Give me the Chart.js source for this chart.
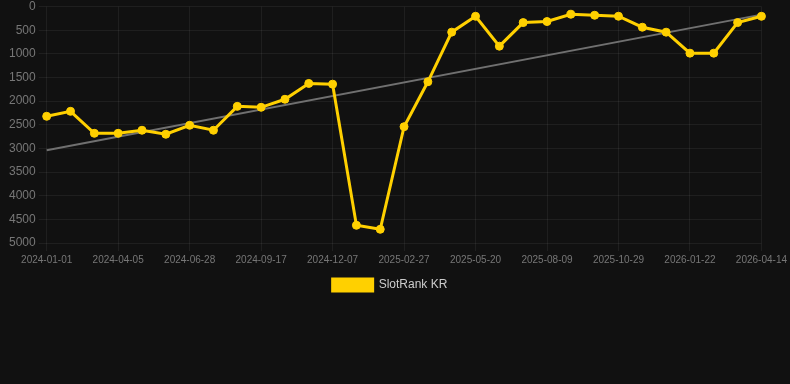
<!DOCTYPE html>
<html>
<head>
<meta charset="utf-8">
<script src="https://cdn.jsdelivr.net/npm/chart.js@4"></script>
<style>
  html, body { margin: 0; padding: 0; background: #111111; }
  #wrap { position: relative; width: 790px; height: 301px; }
</style>
</head>
<body>
<div id="wrap"><canvas id="c"></canvas></div>
<script>
const dates = [
  '2024-01-01','2024-02-01','2024-03-04','2024-04-05','2024-05-03','2024-05-31',
  '2024-06-28','2024-07-25','2024-08-21','2024-09-17','2024-10-14','2024-11-10',
  '2024-12-07','2025-01-03','2025-01-30','2025-02-27','2025-03-26','2025-04-23',
  '2025-05-20','2025-06-16','2025-07-13','2025-08-09','2025-09-05','2025-10-02',
  '2025-10-29','2025-11-26','2025-12-24','2026-01-22','2026-02-18','2026-03-17',
  '2026-04-14'
];
const rankKR = [
  2320, 2215, 2680, 2680, 2615, 2700, 2510, 2615, 2110, 2130, 1960, 1625,
  1640, 4625, 4710, 2540, 1590, 540, 205, 837, 338, 316, 162, 183,
  204, 436, 541, 985, 985, 338, 205
];
const trendStart = 3040;
const trendEnd = 170;
const yTicksMin = 0, yTicksMax = 5000, yTicksStep = 500;
const labelEvery = 3;

const trend = dates.map((d, i) => i === 0 ? trendStart : (i === dates.length - 1 ? trendEnd : null));

new Chart(document.getElementById('c'), {
  type: 'line',
  data: {
    labels: dates,
    datasets: [
      {
        label: 'SlotRank KR',
        data: rankKR,
        borderColor: '#FFD000',
        backgroundColor: '#FFD000',
        borderWidth: 3,
        pointRadius: 4,
        pointBorderWidth: 1,
        pointHoverRadius: 4,
        pointBackgroundColor: '#FFD000',
        pointBorderColor: '#FFD000',
        tension: 0,
        order: 1
      },
      {
        label: 'trend',
        data: trend,
        spanGaps: true,
        borderColor: '#707070',
        backgroundColor: '#707070',
        borderWidth: 2,
        pointRadius: 0,
        tension: 0,
        order: 2
      }
    ]
  },
  options: {
    responsive: true,
    maintainAspectRatio: false,
    animation: false,
    layout: { padding: { left: 6, right: 16, top: 0, bottom: 0 } },
    plugins: {
      legend: {
        position: 'bottom',
        labels: {
          color: '#cccccc',
          font: { family: 'Liberation Sans, Arial, sans-serif', size: 12 },
          boxWidth: 40,
          boxHeight: 12,
          filter: (item) => item.text !== 'trend'
        }
      },
      tooltip: { enabled: false }
    },
    scales: {
      x: {
        grid: {
          color: (ctx) => (ctx.index % labelEvery === 0) ? 'rgba(255,255,255,0.06)' : 'rgba(0,0,0,0)',
          drawTicks: true,
          tickLength: 8
        },
        border: { display: false },
        ticks: {
          autoSkip: false,
          maxRotation: 0,
          minRotation: 0,
          color: '#777777',
          font: { family: 'Liberation Sans, Arial, sans-serif', size: 10 },
          callback: function (val, idx) { return idx % labelEvery === 0 ? this.getLabelForValue(val) : ''; }
        }
      },
      y: {
        reverse: true,
        min: yTicksMin,
        max: yTicksMax,
        grid: { color: 'rgba(255,255,255,0.06)', tickLength: 8 },
        border: { display: false },
        ticks: {
          stepSize: yTicksStep,
          color: '#777777',
          font: { family: 'Liberation Sans, Arial, sans-serif', size: 12, lineHeight: 0.6 },
          callback: (v) => String(v)
        }
      }
    }
  }
});
</script>
</body>
</html>
